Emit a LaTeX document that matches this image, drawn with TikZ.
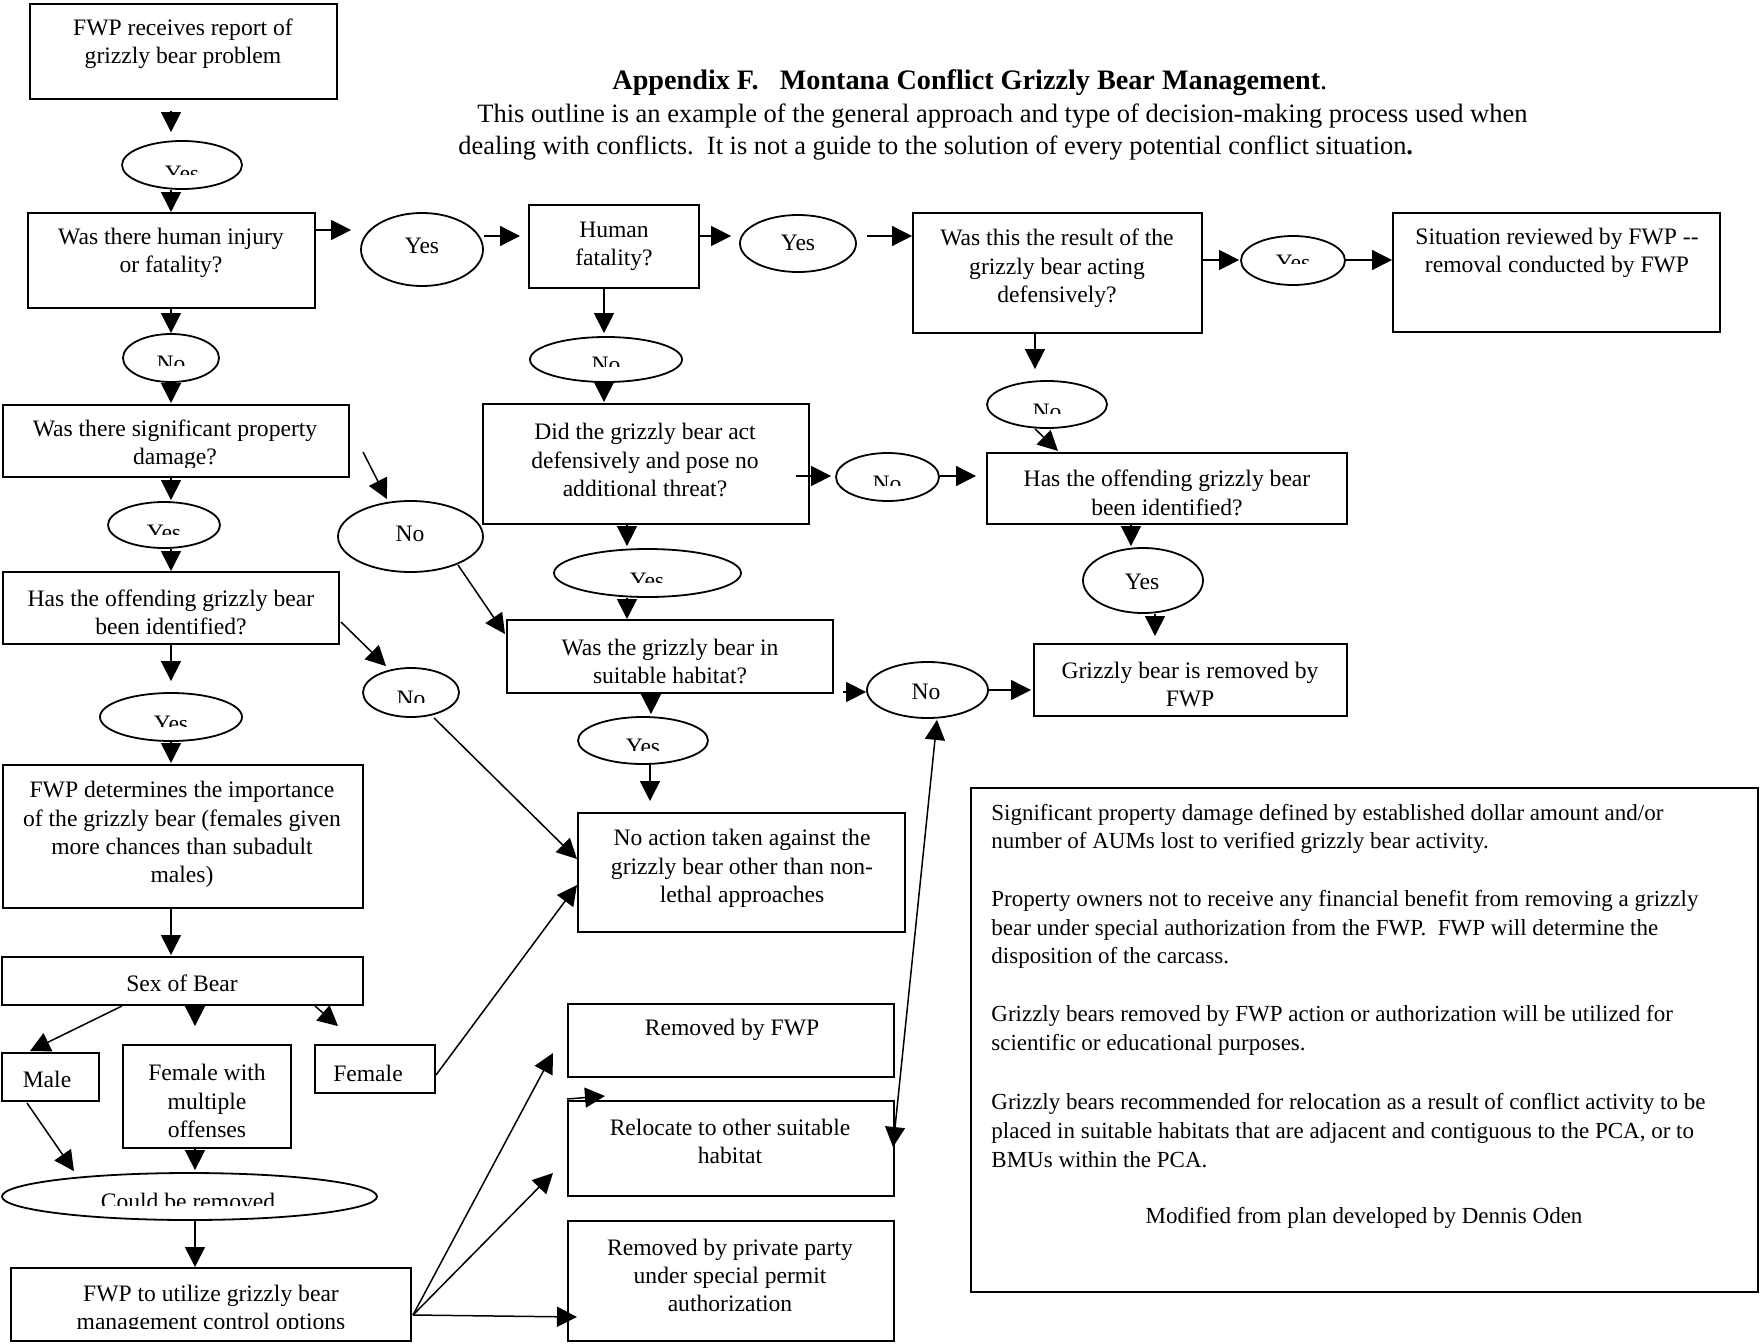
\documentclass[tikz,border=0pt]{standalone}
\usepackage{fontspec}
\setmainfont{Liberation Serif}
\usetikzlibrary{arrows.meta,calc,fit,shapes.geometric}
\newcommand\ebox[3]{\node[bx, fit={#2 #3}] (#1) {};}
\newcommand\eell[4]{\node[el, minimum width=#3pt, minimum height=#4pt] (#1) at #2 {};}
\newcommand\cliplbl[5]{\begin{scope}\clip (#2-200,#3-40) rectangle (#2+200,#4); \node[txt,anchor=base] (#1) at (#2,#3) {#5};\end{scope}}
\begin{document}
\begin{tikzpicture}[x=0.5pt,y=-0.5pt,
  bx/.style={draw, line width=1pt, inner sep=0pt},
  el/.style={draw, ellipse, line width=0.9pt, inner sep=0pt},
  txt/.style={font=\fontsize{11.8}{14.15}\selectfont, align=center, inner sep=0pt},
  note/.style={font=\fontsize{11.5}{14.3}\selectfont, align=left, inner sep=0pt, anchor=west},
  arr/.style={line width=0.75pt, -{Triangle[length=10pt,width=10pt]}},
  darr/.style={line width=0.75pt, {Triangle[length=10pt,width=10pt]}-{Triangle[length=10pt,width=10pt]}},
]
\fill[white] (0,0) rectangle (1760,1343);
\useasboundingbox (0,0) rectangle (1760,1343);

% title
\node[txt, anchor=west, font=\fontsize{14.1}{17}\selectfont\bfseries] (title) at (612,83) {Appendix F.\ \ \ Montana Conflict Grizzly Bear Management\textmd{.}};
\node[txt, anchor=west, font=\fontsize{13.25}{16}\selectfont] (intro1) at (477,116.5) {This outline is an example of the general approach and type of decision-making process used when};
\node[txt, anchor=west, font=\fontsize{13.2}{16}\selectfont] (intro2) at (458,148) {dealing with conflicts.\ \ It is not a guide to the solution of every potential conflict situation\textbf{.}};

% boxes
\ebox{b1}{(30,4)}{(337,99)}
\ebox{b2}{(28,213)}{(315,308)}
\ebox{b3}{(529,205)}{(699,288)}
\ebox{b4}{(913,213)}{(1202,333)}
\ebox{b5}{(1393,213)}{(1720,332)}
\ebox{b6}{(987,453)}{(1347,524)}
\ebox{b7}{(1034,644)}{(1347,716)}
\ebox{b8}{(483,404)}{(809,524)}
\ebox{b9}{(507,620)}{(833,693)}
\ebox{b10}{(578,813)}{(905,932)}
\ebox{b11}{(3,405)}{(349,477)}
\ebox{b12}{(3,572)}{(339,644)}
\ebox{b13}{(3,765)}{(363,908)}
\ebox{b14}{(2,957)}{(363,1005)}
\ebox{b15}{(2,1053)}{(99,1101)}
\ebox{b16}{(123,1045)}{(291,1148)}
\ebox{b17}{(315,1045)}{(435,1093)}
\ebox{b18}{(11,1268)}{(411,1341)}
\ebox{b19}{(568,1004)}{(894,1077)}
\ebox{b20}{(568,1101)}{(894,1196)}
\ebox{b21}{(568,1221)}{(894,1341)}
\ebox{notebox}{(971,788)}{(1758,1292)}

% ellipses
\eell{e1}{(182,165)}{60}{24}
\eell{e2}{(422,249.5)}{61}{36.5}
\eell{e3}{(798,243.5)}{58}{28.5}
\eell{e4}{(1293,260.5)}{52}{24.5}
\eell{e5}{(1047,404.5)}{60}{23.5}
\eell{e6}{(1143,580.5)}{60}{32.5}
\eell{e7}{(606,359.5)}{76}{22.5}
\eell{e8}{(887.5,477)}{51.5}{24}
\eell{e9}{(647.5,573)}{93.5}{24}
\eell{e10}{(643,740.5)}{65}{23.5}
\eell{e11}{(927.5,690)}{60.5}{28}
\eell{e12}{(410.5,536.5)}{72.5}{35.5}
\eell{e13}{(171,358)}{48}{24}
\eell{e14}{(164,525)}{56}{23}
\eell{e15}{(171,717)}{71}{24}
\eell{e16}{(411,692.5)}{48}{24.5}
\eell{e17}{(189.5,1196.5)}{187.5}{23.5}

% box texts
\node[txt] (b1t) at (183,44) {FWP receives report of\\grizzly bear problem};
\node[txt] (b2t) at (171,253) {Was there human injury\\or fatality?};
\node[txt] (b3t) at (614,246) {Human\\fatality?};
\node[txt] (b4t) at (1057,268.5) {Was this the result of the\\grizzly bear acting\\defensively?};
\node[txt] (b5t) at (1557,253) {Situation reviewed by FWP -{}-\\removal conducted by FWP};
\node[txt] (b6t) at (1167,493) {Has the offending grizzly bear\\been identified?};
\node[txt] (b7t) at (1190,684.5) {Grizzly bear is removed by\\FWP};
\node[txt] (b8t) at (645,460) {Did the grizzly bear act\\defensively and pose no\\additional threat?};
\node[txt] (b9t) at (670,661.5) {Was the grizzly bear in\\suitable habitat?};
\node[txt] (b10t) at (742,868.5) {No action taken against the\\grizzly bear other than non-\\lethal approaches};
\begin{scope}\clip (3,405) rectangle (349,467);
\node[txt] (b11t) at (175,445) {Was there significant property\\damage?};
\end{scope}
\node[txt] (b12t) at (171,612.5) {Has the offending grizzly bear\\been identified?};
\node[txt] (b13t) at (182,834.5) {FWP determines the importance\\of the grizzly bear (females given\\more chances than subadult\\males)};
\node[txt] (b14t) at (182,983) {Sex of Bear};
\node[txt] (b15t) at (47,1079) {Male};
\node[txt] (b16t) at (207,1101) {Female with\\multiple\\offenses};
\node[txt] (b17t) at (368,1073) {Female};
\begin{scope}\clip (11,1268) rectangle (411,1328);
\node[txt] (b18t) at (211,1309.5) {FWP to utilize grizzly bear\\management control options};
\end{scope}
\node[txt] (b19t) at (732,1030) {Removed by FWP};
\node[txt] (b20t) at (730,1141.5) {Relocate to other suitable\\habitat};
\node[txt] (b21t) at (730,1275.5) {Removed by private party\\under special permit\\authorization};

% ellipse texts
\node[txt] (e2t) at (422,246) {Yes};
\node[txt] (e3t) at (798,243) {Yes};
\node[txt] (e6t) at (1142,582) {Yes};
\node[txt] (e11t) at (926,692) {No};
\node[txt] (e12t) at (410,534) {No};
\cliplbl{e1t}{182}{181}{174}{Yes}
\cliplbl{e13t}{171}{371}{365}{No}
\cliplbl{e14t}{164}{540}{534}{Yes}
\cliplbl{e15t}{171}{731}{726}{Yes}
\cliplbl{e16t}{411}{706}{702}{No}
\cliplbl{e7t}{606}{372}{366}{No}
\cliplbl{e5t}{1047}{419}{413}{No}
\cliplbl{e4t}{1293}{270}{263}{Yes}
\cliplbl{e8t}{887}{491}{485}{No}
\cliplbl{e9t}{647}{588}{582}{Yes}
\cliplbl{e10t}{643}{754}{750}{Yes}
\cliplbl{e17t}{188}{1209}{1205}{Could be removed}

% note
\node[note] (n1) at (991,829) {Significant property damage defined by established dollar amount and/or\\number of AUMs lost to verified grizzly bear activity.};
\node[note] (n2) at (991,929.5) {Property owners not to receive any financial benefit from removing a grizzly\\bear under special authorization from the FWP.\ \ FWP will determine the\\disposition of the carcass.};
\node[note] (n3) at (991,1030.5) {Grizzly bears removed by FWP action or authorization will be utilized for\\scientific or educational purposes.};
\node[note] (n4) at (991,1130.5) {Grizzly bears recommended for relocation as a result of conflict activity to be\\placed in suitable habitats that are adjacent and contiguous to the PCA, or to\\BMUs within the PCA.};
\node[note, anchor=center] (n5) at (1364,1218) {Modified from plan developed by Dennis Oden};

% connectors - top row
\draw[arr] ($(b1.south)+(-12.5,11)$) -- ($(e1.north)+(-11,-8)$);
\draw[arr] ($(e1.south)+(-11,0)$) -- ($(b2.north)+(-0.5,0)$);
\draw[arr] ($(b2.east)+(0,-30.5)$) -- ($(e2.west)+(-9,-19.5)$);
\draw[arr] ($(e2.east)+(0,-13.5)$) -- ($(b3.west)+(-8,-10.5)$);
\draw[arr] ($(b3.east)+(0,-10.5)$) -- ($(e3.west)+(-8,-7.5)$);
\draw[arr] ($(e3.east)+(10,-7.5)$) -- ($(b4.west)+(0,-37)$);
\draw[arr] ($(b4.east)+(0,-13)$) -- ($(e4.west)+(-1,-0.5)$);
\draw[arr] ($(e4.east)+(0,-0.5)$) -- ($(b5.west)+(0,-12.5)$);
% right column
\draw[arr] ($(b4.south)+(-22.5,0)$) -- ($(e5.north)+(-12,-11)$);
\draw[arr] ($(e5.south)+(-12,0)$) -- ($(b6.north)+(-109,-1)$);
\draw[arr] ($(b6.south)+(-36,0)$) -- ($(e6.north)+(-12,-1)$);
\draw[arr] ($(e6.south)+(12,0)$) -- ($(b7.north)+(-35.5,-7)$);
% middle column
\draw[arr] ($(b3.south)+(-10,0)$) -- ($(e7.north)+(-2,-3)$);
\draw[arr] ($(e7.south)+(-2,0)$) -- ($(b8.north)+(-42,-1)$);
\draw[arr] ($(b8.east)+(-14,12)$) -- ($(e8.west)+(-4,-1)$);
\draw[arr] ($(e8.east)+(0,-1)$) -- ($(b6.west)+(-10,-12.5)$);
\draw[arr] ($(b8.south)+(-19,0)$) -- ($(e9.north)+(-20.5,-2)$);
\draw[arr] ($(e9.south)+(-20.5,0)$) -- ($(b9.north)+(-43,0)$);
\draw[arr] ($(b9.south)+(-19,0)$) -- ($(e10.north)+(8,-2)$);
\draw[arr] ($(e10.south)+(7,0)$) -- ($(b10.north)+(-91.5,-11)$);
\draw[arr] ($(b9.east)+(9,35.5)$) -- ($(e11.west)+(0,2)$);
\draw[arr] (e11.east) -- ($(b7.west)+(-2,10)$);
\draw[darr] ($(e11.south)+(9.5,1)$) -- ($(b20.east)+(-2,-1.5)$);
% left column
\draw[arr] ($(b2.south)+(-0.5,0)$) -- (e13.north);
\draw[arr] (e13.south) -- ($(b11.north)+(-5,-1)$);
\draw[arr] ($(b11.south)+(-5,0)$) -- ($(e14.north)+(7,-1)$);
\draw[arr] ($(e14.south)+(7,0)$) -- (b12.north);
\draw[arr] (b12.south) -- ($(e15.north)+(0,-11)$);
\draw[arr] (e15.south) -- ($(b13.north)+(-12,-1)$);
\draw[arr] ($(b13.south)+(-12,0)$) -- ($(b14.north)+(-11.5,-1)$);
\draw[arr] ($(b11.east)+(13,11)$) -- ($(e12.north)+(-23.5,-1)$);
\draw[arr] ($(e12)+(47.5,28.5)$) -- ($(b9.north west)+(-1,15)$);
\draw[arr] ($(b12.east)+(1,14)$) -- ($(e16.north)+(-25,-1)$);
\draw[arr] ($(e16.south)+(23,0)$) -- ($(b10.west)+(0,-13.5)$);
\draw[arr] ($(b17.east)+(0,6)$) -- ($(b10.west)+(0,12.5)$);
\draw[arr] ($(b14.south)+(-60.5,0)$) -- ($(b15.north)+(-20.5,-1)$);
\draw[arr] ($(b14.south)+(12.5,0)$) -- ($(b16.north)+(-12,-18)$);
\draw[arr] ($(b14.south)+(132.5,0)$) -- ($(b17.north)+(-37,-18)$);
\draw[arr] ($(b15.south)+(-23.5,1)$) -- ($(e17.north)+(-115.5,-1)$);
\draw[arr] ($(b16.south)+(-12,0)$) -- ($(e17.north)+(5.5,-2)$);
\draw[arr] ($(e17.south)+(5.5,0)$) -- ($(b18.north)+(-16,0)$);
\draw[arr] ($(b18.east)+(1,10.5)$) -- ($(b19.west)+(-14,12.5)$);
\draw[arr] ($(b18.east)+(1,10.5)$) -- ($(b20.west)+(-14,24.5)$);
\draw[arr] ($(b18.east)+(1,10.5)$) -- ($(b21.west)+(10,36)$);
\coordinate (stray) at ($(b20.north west)+(38,-4)$);
\draw[arr] ($(b20.north west)+(0,-1)$) -- (stray);
\end{tikzpicture}
\end{document}
